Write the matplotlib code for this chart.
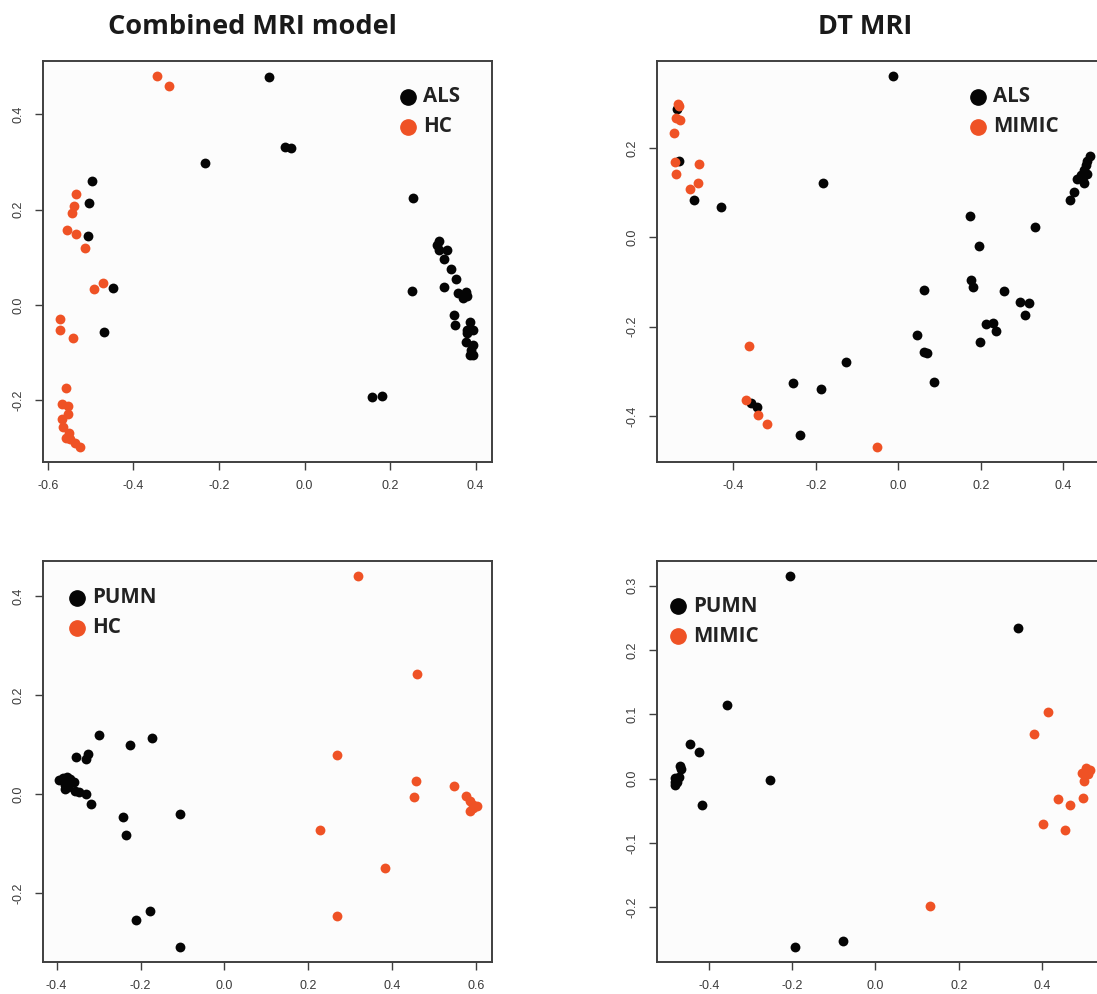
import matplotlib
matplotlib.use("Agg")
import matplotlib.pyplot as plt
from matplotlib.lines import Line2D

# ---------------- data ----------------
titles = ["Combined MRI model", "DT MRI"]

# Panel 1: Combined MRI model, ALS vs HC
p1_als_x = [-0.232, -0.497, -0.504, -0.505, -0.448, -0.468, -0.084, -0.045, -0.032, 0.253, 0.252,
            0.157, 0.180, 0.314, 0.310, 0.314, 0.332, 0.326, 0.342, 0.354, 0.326, 0.358, 0.377,
            0.370, 0.380, 0.349, 0.352, 0.387, 0.381, 0.394, 0.379, 0.377, 0.394, 0.389, 0.394, 0.387]
p1_als_y = [0.298, 0.260, 0.215, 0.145, 0.036, -0.057, 0.479, 0.332, 0.330, 0.225, 0.030,
            -0.192, -0.191, 0.135, 0.126, 0.115, 0.115, 0.096, 0.075, 0.054, 0.039, 0.026, 0.028,
            0.015, 0.019, -0.021, -0.042, -0.035, -0.052, -0.052, -0.059, -0.077, -0.084, -0.094, -0.105, -0.105]
p1_hc_x = [-0.344, -0.317, -0.535, -0.539, -0.544, -0.556, -0.535, -0.513, -0.470, -0.493, -0.572,
           -0.572, -0.542, -0.557, -0.568, -0.552, -0.568, -0.554, -0.565, -0.551, -0.557, -0.548,
           -0.537, -0.525]
p1_hc_y = [0.480, 0.460, 0.232, 0.208, 0.194, 0.157, 0.150, 0.119, 0.047, 0.034, -0.029,
           -0.052, -0.070, -0.173, -0.208, -0.212, -0.238, -0.229, -0.255, -0.269, -0.278, -0.281,
           -0.290, -0.297]

# Panel 2: DT MRI, ALS vs MIMIC
p2_als_x = [-0.536, -0.532, -0.495, -0.429, -0.183, -0.358, -0.343, -0.255, -0.188, -0.238, -0.128,
            -0.014, 0.174, 0.195, 0.176, 0.181, 0.063, 0.045, 0.061, 0.070, 0.087, 0.212, 0.229,
            0.236, 0.199, 0.256, 0.295, 0.317, 0.306, 0.331, 0.416, 0.425, 0.432, 0.449, 0.442,
            0.451, 0.455, 0.458, 0.465, 0.447, 0.457]
p2_als_y = [0.287, 0.172, 0.083, 0.069, 0.123, -0.372, -0.381, -0.326, -0.339, -0.443, -0.279,
            0.362, 0.047, -0.019, -0.095, -0.111, -0.117, -0.219, -0.257, -0.259, -0.324, -0.194, -0.191,
            -0.210, -0.234, -0.120, -0.144, -0.147, -0.174, 0.023, 0.084, 0.101, 0.130, 0.122, 0.140,
            0.151, 0.162, 0.172, 0.182, 0.135, 0.143]
p2_mimic_x = [-0.534, -0.531, -0.539, -0.529, -0.544, -0.541, -0.539, -0.484, -0.486, -0.505,
              -0.363, -0.369, -0.341, -0.319, -0.052]
p2_mimic_y = [0.300, 0.295, 0.267, 0.263, 0.233, 0.168, 0.141, 0.165, 0.121, 0.109,
              -0.244, -0.365, -0.397, -0.419, -0.470]

# Panel 3: Combined MRI model, PUMN vs HC
p3_pumn_x = [-0.298, -0.173, -0.225, -0.354, -0.330, -0.324, -0.393, -0.384, -0.376, -0.368, -0.358,
             -0.380, -0.381, -0.372, -0.356, -0.346, -0.330, -0.318, -0.241, -0.235, -0.106, -0.177,
             -0.210, -0.107]
p3_pumn_y = [0.119, 0.114, 0.099, 0.075, 0.071, 0.082, 0.028, 0.032, 0.035, 0.030, 0.025,
             0.018, 0.011, 0.015, 0.007, 0.005, 0.001, -0.020, -0.047, -0.083, -0.041, -0.236,
             -0.255, -0.309]
p3_hc_x = [0.317, 0.458, 0.269, 0.456, 0.452, 0.546, 0.576, 0.585, 0.593, 0.601, 0.586, 0.591,
           0.228, 0.382, 0.269]
p3_hc_y = [0.441, 0.243, 0.079, 0.026, -0.006, 0.017, -0.003, -0.014, -0.022, -0.024, -0.034, -0.029,
           -0.073, -0.149, -0.247]

# Panel 4: DT MRI, PUMN vs MIMIC
p4_pumn_x = [-0.205, -0.357, -0.445, -0.423, -0.417, -0.254, -0.469, -0.467, -0.472, -0.480, -0.482,
             -0.482, -0.477, -0.194, -0.077, 0.342]
p4_pumn_y = [0.315, 0.114, 0.054, 0.041, -0.041, -0.002, 0.019, 0.015, 0.003, 0.001, -0.005,
             -0.010, -0.005, -0.262, -0.253, 0.235]
p4_mimic_x = [0.413, 0.380, 0.506, 0.514, 0.495, 0.509, 0.500, 0.499, 0.437, 0.467, 0.401, 0.455, 0.132]
p4_mimic_y = [0.103, 0.070, 0.016, 0.014, 0.009, 0.007, -0.003, -0.030, -0.032, -0.041, -0.070, -0.080, -0.198]

# ---------------- styling ----------------
W, H = 1097, 994
BLACK = "#050505"
ORANGE = "#ef5225"
SPINE = "#3f3f3f"
TICKC = "#3a3a3a"
LEGEND_FONT = ["Open Sans", "DejaVu Sans"]

fig = plt.figure(figsize=(W / 100, H / 100), dpi=100)
fig.patch.set_facecolor("white")


def make_axes(left_px, right_px, top_px, bottom_px):
    return fig.add_axes([left_px / W, 1 - bottom_px / H,
                         (right_px - left_px) / W, (bottom_px - top_px) / H])


def style(ax, xlim, ylim, xticks, yticks):
    ax.set_facecolor("#fcfcfc")
    ax.set_xlim(*xlim)
    ax.set_ylim(*ylim)
    ax.set_xticks(xticks)
    ax.set_yticks(yticks)
    ax.set_xticklabels([f"{t:.1f}" for t in xticks], fontfamily="Liberation Sans",
                       fontsize=9, color=TICKC)
    ax.set_yticklabels([f"{t:.1f}" for t in yticks], fontfamily="Liberation Sans",
                       fontsize=9, color=TICKC, rotation=90, va="center")
    ax.tick_params(axis="both", direction="out", length=6, width=1.0, color=SPINE, pad=7)
    for s in ax.spines.values():
        s.set_color(SPINE)
        s.set_linewidth(1.4)


def legend(ax, x_marker_px, y1_px, labels, colors):
    for i, (lab, col) in enumerate(zip(labels, colors)):
        yp = y1_px + i * 30
        fig.add_artist(Line2D([x_marker_px / W], [1 - yp / H], marker="o", markersize=11,
                              color=col, linestyle="none", transform=fig.transFigure))
        fig.text((x_marker_px + 15) / W, 1 - yp / H, lab, fontfamily=LEGEND_FONT,
                 fontweight="bold", fontsize=14.8, color="#222222", va="center", ha="left")


MS = 50

# Panel 1
ax1 = make_axes(42.7, 492.3, 60.7, 462.0)
ax1.scatter(p1_als_x, p1_als_y, s=MS, color=BLACK, linewidths=0, zorder=3)
ax1.scatter(p1_hc_x, p1_hc_y, s=MS, color=ORANGE, linewidths=0, zorder=3)
style(ax1, (-0.612, 0.439), (-0.329, 0.5125), [-0.6, -0.4, -0.2, 0.0, 0.2, 0.4],
      [-0.2, 0.0, 0.2, 0.4])
legend(ax1, 408.3, 96.7, ["ALS", "HC"], [BLACK, ORANGE])

# Panel 2
ax2 = make_axes(656.7, 1106.3, 60.7, 462.3)
ax2.scatter(p2_als_x, p2_als_y, s=MS, color=BLACK, linewidths=0, zorder=3)
ax2.scatter(p2_mimic_x, p2_mimic_y, s=MS, color=ORANGE, linewidths=0, zorder=3)
style(ax2, (-0.586, 0.504), (-0.504, 0.396), [-0.4, -0.2, 0.0, 0.2, 0.4],
      [-0.4, -0.2, 0.0, 0.2])
legend(ax2, 978.3, 96.7, ["ALS", "MIMIC"], [BLACK, ORANGE])

# Panel 3
ax3 = make_axes(42.7, 492.3, 560.7, 962.3)
ax3.scatter(p3_pumn_x, p3_pumn_y, s=MS, color=BLACK, linewidths=0, zorder=3)
ax3.scatter(p3_hc_x, p3_hc_y, s=MS, color=ORANGE, linewidths=0, zorder=3)
style(ax3, (-0.433, 0.638), (-0.340, 0.472), [-0.4, -0.2, 0.0, 0.2, 0.4, 0.6],
      [-0.2, 0.0, 0.2, 0.4])
legend(ax3, 76.7, 597.7, ["PUMN", "HC"], [BLACK, ORANGE])

# Panel 4
ax4 = make_axes(656.7, 1106.3, 560.7, 962.3)
ax4.scatter(p4_pumn_x, p4_pumn_y, s=MS, color=BLACK, linewidths=0, zorder=3)
ax4.scatter(p4_mimic_x, p4_mimic_y, s=MS, color=ORANGE, linewidths=0, zorder=3)
style(ax4, (-0.525, 0.554), (-0.2855, 0.339), [-0.4, -0.2, 0.0, 0.2, 0.4],
      [-0.2, -0.1, 0.0, 0.1, 0.2, 0.3])
legend(ax4, 677.7, 606.0, ["PUMN", "MIMIC"], [BLACK, ORANGE])

# Titles
fig.text(252 / W, 1 - 34 / H, titles[0], fontfamily=LEGEND_FONT, fontweight="bold",
         fontsize=19.5, color="#1a1a1a", ha="center", va="baseline")
fig.text(865.5 / W, 1 - 34 / H, titles[1], fontfamily=LEGEND_FONT, fontweight="bold",
         fontsize=19.5, color="#1a1a1a", ha="center", va="baseline")

fig.savefig("out.png", dpi=100, facecolor="white")
